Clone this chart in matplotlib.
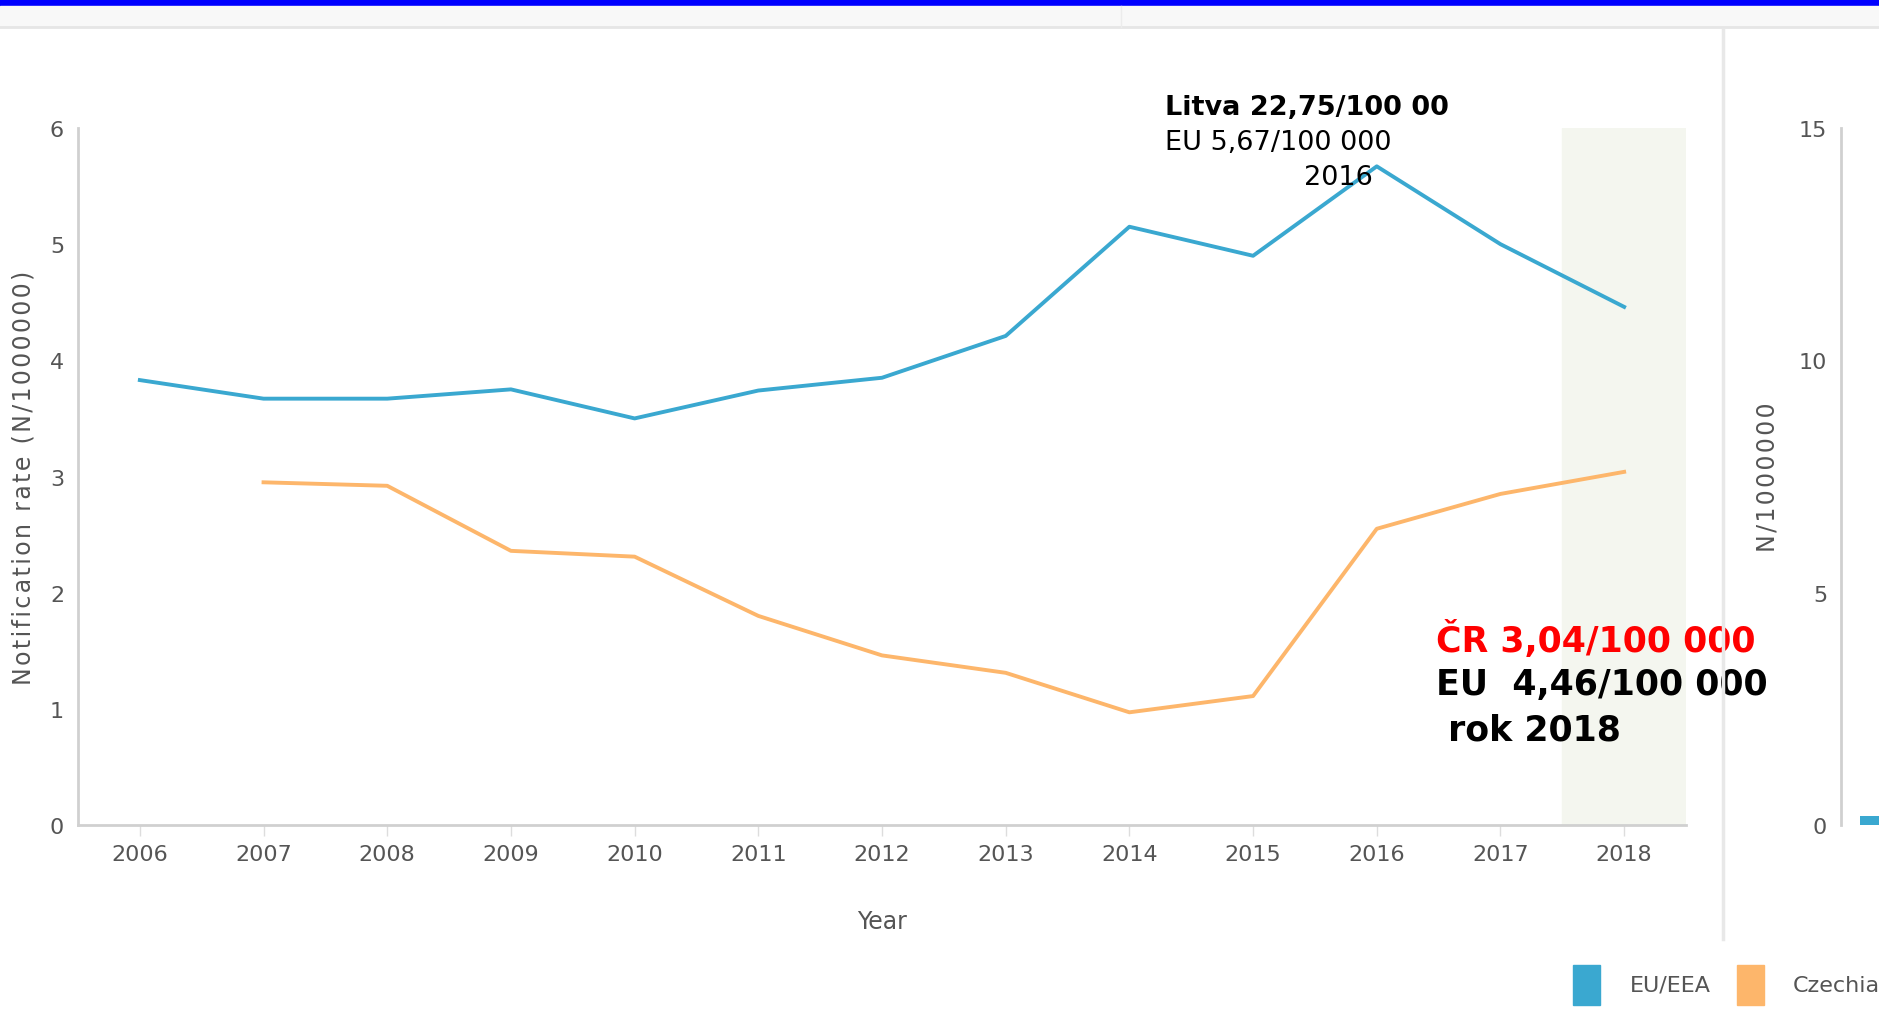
import matplotlib.pyplot as plt
from matplotlib.patches import Rectangle
from matplotlib.lines import Line2D

# data
years = [2006, 2007, 2008, 2009, 2010, 2011, 2012, 2013, 2014, 2015, 2016, 2017, 2018]
eu_eea = [3.83, 3.67, 3.67, 3.75, 3.50, 3.74, 3.85, 4.21, 5.15, 4.90, 5.67, 5.00, 4.46]
cz_years = [2007, 2008, 2009, 2010, 2011, 2012, 2013, 2014, 2015, 2016, 2017, 2018]
czechia = [2.95, 2.92, 2.36, 2.31, 1.80, 1.46, 1.31, 0.97, 1.11, 2.55, 2.85, 3.04]
right_vals = [0.2]

blue = '#3aa8d0'
orange = '#fdb66b'
grey = '#555555'
axis_grey = '#d0d0d0'

def spaced(s):
    # the original axis titles are letter-spaced
    return '\u200a'.join(s)

fig = plt.figure(figsize=(18.79, 10.20), dpi=100)
W, H = 1879.0, 1020.0

# top strips
fig.patches.append(Rectangle((0, 1 - 7 / H), 1, 7 / H, transform=fig.transFigure,
                             color='#0000ff', zorder=0))
fig.patches.append(Rectangle((0, 1 - 28 / H), 1, 21 / H, transform=fig.transFigure,
                             color='#f8f8f8', zorder=0))
fig.lines.append(Line2D([0, 1], [1 - 28 / H, 1 - 28 / H], transform=fig.transFigure,
                        color='#e6e6e6', lw=2))
fig.lines.append(Line2D([1121 / W, 1121 / W], [1 - 28 / H, 1 - 7 / H], transform=fig.transFigure,
                        color='#ececec', lw=1))
# panel separator
fig.lines.append(Line2D([1723 / W, 1723 / W], [1 - 940 / H, 1 - 30 / H], transform=fig.transFigure,
                        color='#e8e8e8', lw=2.5))

# main chart
ax = fig.add_axes([78 / W, 1 - 826 / H, (1686 - 78) / W, (826 - 129) / H])
ax.axvspan(2017.5, 2018.5, color='#f4f6ef', zorder=0)
ax.plot(years, eu_eea, color=blue, lw=2.8)
ax.plot(cz_years, czechia, color=orange, lw=2.8)
ax.set_xlim(2005.5, 2018.5)
ax.set_ylim(0, 6)
ax.set_xticks(years)
ax.set_xticklabels([str(y) for y in years], fontsize=16, color=grey)
ax.set_yticks(range(7))
ax.set_yticklabels([str(v) for v in range(7)], fontsize=16, color=grey)
ax.tick_params(axis='x', length=8, width=1, color='#dddddd', pad=6)
ax.tick_params(axis='y', length=0, pad=10)
for s in ['top', 'right']:
    ax.spines[s].set_visible(False)
for s in ['left', 'bottom']:
    ax.spines[s].set_color(axis_grey)
    ax.spines[s].set_linewidth(2)
ax.set_xlabel('Year', fontsize=17, color=grey, labelpad=32)
ax.set_ylabel(spaced('Notification rate (N/1000000)'), fontsize=17, color=grey, labelpad=10)

# annotations
ax.text(2014.29, 6.18, 'Litva 22,75/100 00', fontsize=19.5, fontweight='bold', color='black',
        va='center', ha='left')
ax.text(2014.29, 5.88, 'EU 5,67/100 000', fontsize=19.5, color='black', va='center', ha='left')
ax.text(2015.41, 5.58, '2016', fontsize=19.5, color='black', va='center', ha='left')
ax.text(2016.48, 1.60, 'ČR 3,04/100 000', fontsize=25, fontweight='bold', color='#ff0000',
        va='center', ha='left')
ax.text(2016.48, 1.21, 'EU  4,46/100 000', fontsize=25, fontweight='bold', color='black',
        va='center', ha='left')
ax.text(2016.48, 0.82, ' rok 2018', fontsize=25, fontweight='bold', color='black',
        va='center', ha='left')

# right panel (cut off)
ax2 = fig.add_axes([1841 / W, 1 - 826 / H, 0.2, (826 - 129) / H])
ax2.bar([0.5], right_vals, width=0.5, color=blue, align='edge')
ax2.set_xlim(0, 10)
ax2.set_ylim(0, 15)
ax2.set_yticks([0, 5, 10, 15])
ax2.set_yticklabels(['0', '5', '10', '15'], fontsize=16, color=grey)
ax2.tick_params(axis='y', length=0, pad=10)
ax2.set_xticks([])
for s in ['top', 'right', 'bottom']:
    ax2.spines[s].set_visible(False)
ax2.spines['left'].set_color(axis_grey)
ax2.spines['left'].set_linewidth(2)
ax2.set_ylabel(spaced('N/1000000'), fontsize=17, color=grey, labelpad=14)

# legend
fig.patches.append(Rectangle((1573 / W, 1 - 1006 / H), 27 / W, 40 / H, transform=fig.transFigure,
                             color=blue))
fig.text(1630 / W, 1 - 986 / H, 'EU/EEA', fontsize=16, color=grey, va='center')
fig.patches.append(Rectangle((1737 / W, 1 - 1006 / H), 27 / W, 40 / H, transform=fig.transFigure,
                             color=orange))
fig.text(1793 / W, 1 - 986 / H, 'Czechia', fontsize=16, color=grey, va='center')

plt.savefig('out.png', dpi=100)
